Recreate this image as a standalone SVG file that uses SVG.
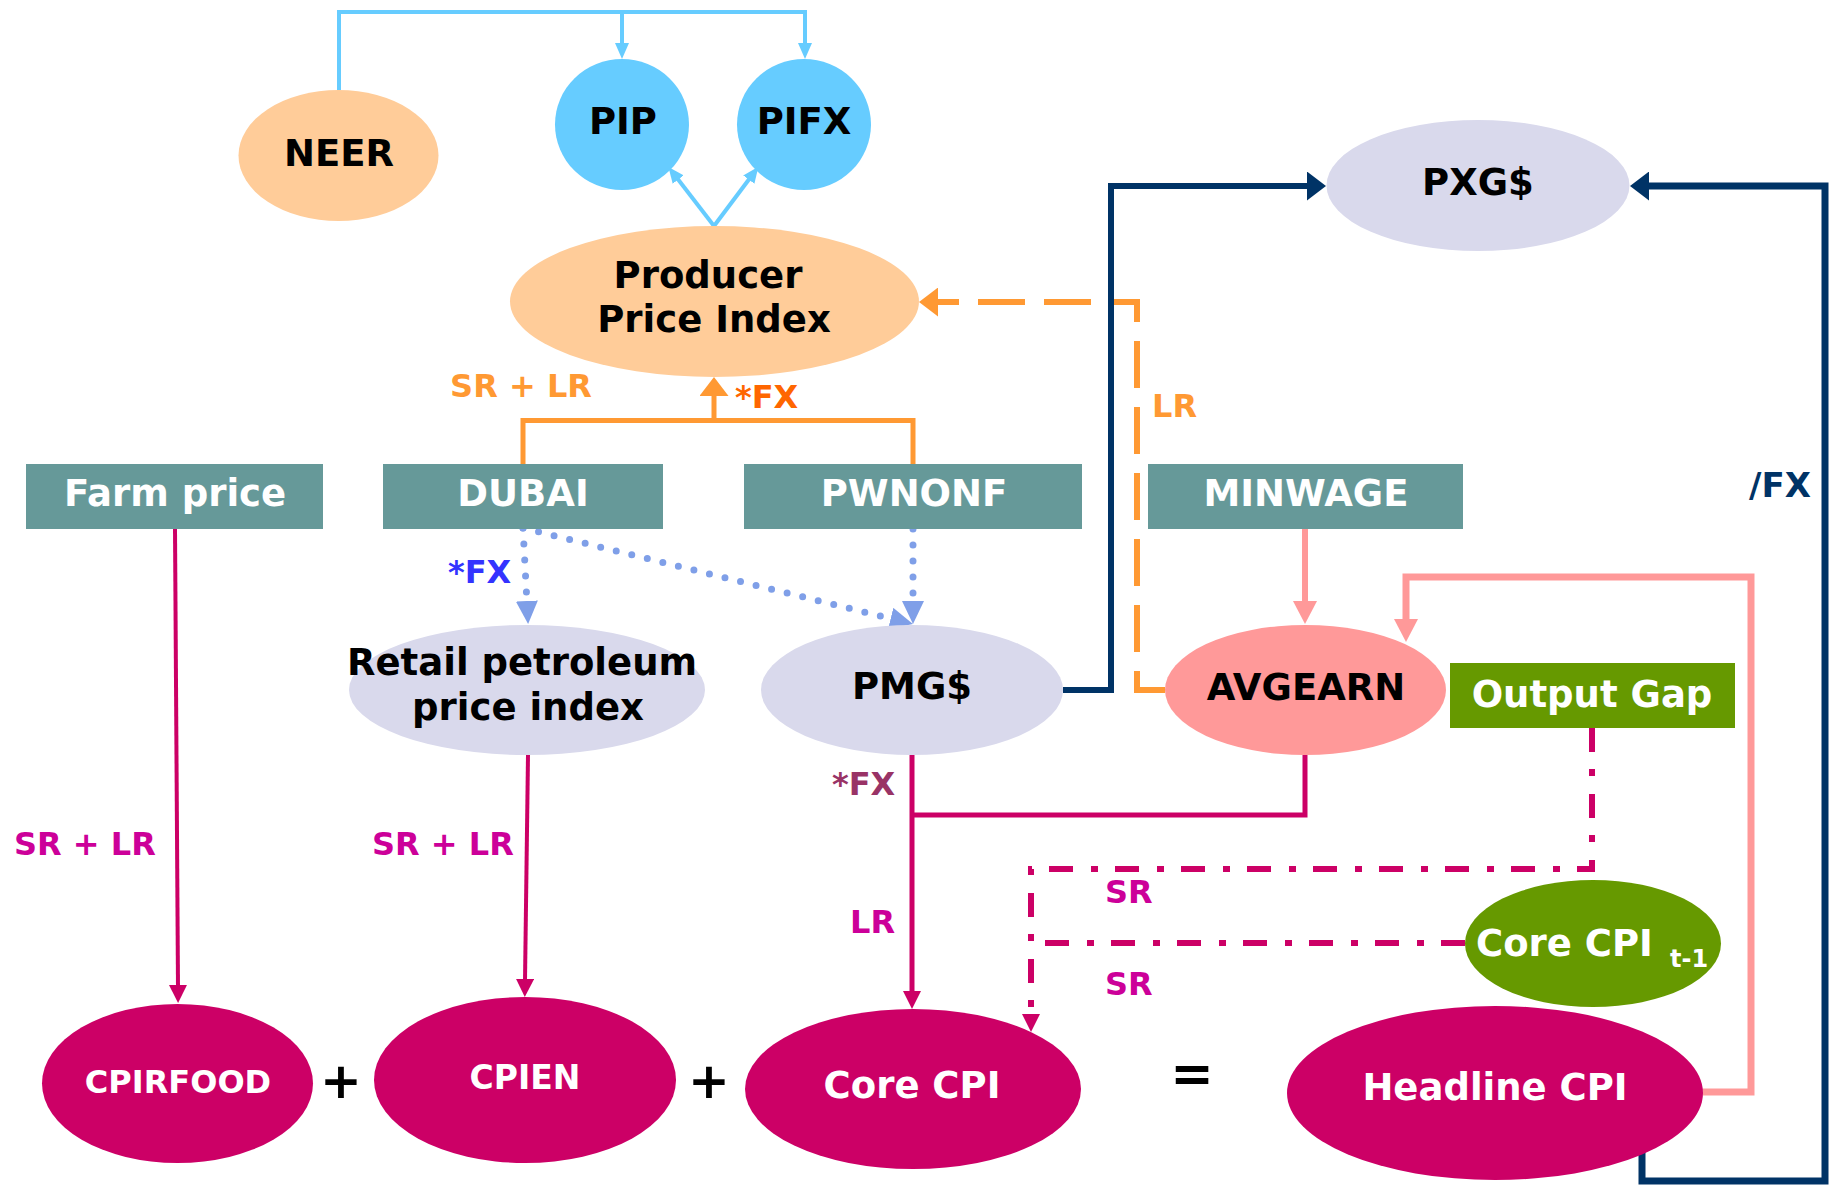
<svg xmlns="http://www.w3.org/2000/svg" width="1831" height="1185" viewBox="0 0 1831 1185">
<style>
text{font-family:"DejaVu Sans","Verdana","Liberation Sans",sans-serif;font-weight:bold}
.n{font-size:37px;text-anchor:middle}
.dk{fill:#000}
.wt{fill:#fff}
.lb{font-size:32px}
.peach{fill:#FFCC99}
.sky{fill:#66CCFF}
.lav{fill:#D9D9EC}
.teal{fill:#669999}
.pink{fill:#FF9999}
.green{fill:#669900}
.mag{fill:#CC0066}
.c{fill:none}
</style>
<defs>
<marker id="aSky" markerUnits="userSpaceOnUse" markerWidth="16" markerHeight="14" refX="2" refY="7" orient="auto"><path d="M0,0 L16,7 L0,14 z" fill="#66CCFF"/></marker>
<marker id="aOr" markerUnits="userSpaceOnUse" markerWidth="19" markerHeight="29" refX="2" refY="14.5" orient="auto"><path d="M0,0 L19,14.5 L0,29 z" fill="#FF9933"/></marker>
<marker id="aNavy" markerUnits="userSpaceOnUse" markerWidth="19" markerHeight="29" refX="2" refY="14.5" orient="auto"><path d="M0,0 L19,14.5 L0,29 z" fill="#003366"/></marker>
<marker id="aMag" markerUnits="userSpaceOnUse" markerWidth="18" markerHeight="18" refX="2" refY="9" orient="auto"><path d="M0,0 L18,9 L0,18 z" fill="#CC0066"/></marker>
<marker id="aPink" markerUnits="userSpaceOnUse" markerWidth="23" markerHeight="24" refX="2" refY="12" orient="auto"><path d="M0,0 L23,12 L0,24 z" fill="#FF9999"/></marker>
<marker id="aDot" markerUnits="userSpaceOnUse" markerWidth="23" markerHeight="22" refX="2" refY="11" orient="auto"><path d="M0,0 L23,11 L0,22 z" fill="#7F9FE8"/></marker>
</defs>
<rect width="1831" height="1185" fill="#fff"/>

<g id="connectors">
  <path class="c" d="M339,90 V12 H805 V45" stroke="#66CCFF" stroke-width="4" marker-end="url(#aSky)"/>
  <path class="c" d="M622,12 V45" stroke="#66CCFF" stroke-width="4" marker-end="url(#aSky)"/>
  <path class="c" d="M714,226 L677,178" stroke="#66CCFF" stroke-width="4" marker-end="url(#aSky)"/>
  <path class="c" d="M714,226 L750,178" stroke="#66CCFF" stroke-width="4" marker-end="url(#aSky)"/>
  <path class="c" d="M523,464 V420.5 H913 V464" stroke="#FF9933" stroke-width="5"/>
  <path class="c" d="M714,420.5 V394" stroke="#FF9933" stroke-width="5" marker-end="url(#aOr)"/>
  <path class="c" d="M1165,690 H1137 V302 H936" stroke="#FF9933" stroke-width="6" stroke-dasharray="47 19" marker-end="url(#aOr)"/>
  <path class="c" d="M1063,690 H1111 V186 H1309" stroke="#003366" stroke-width="6" marker-end="url(#aNavy)"/>
  <path class="c" d="M1642,1152 V1181 H1825 V186 H1647" stroke="#003366" stroke-width="7" marker-end="url(#aNavy)"/>
  <path class="c" d="M175,529 L178,987" stroke="#CC0066" stroke-width="4" marker-end="url(#aMag)"/>
  <path class="c" d="M528,755 L525,981" stroke="#CC0066" stroke-width="4" marker-end="url(#aMag)"/>
  <path class="c" d="M912,755 V993" stroke="#CC0066" stroke-width="5" marker-end="url(#aMag)"/>
  <path class="c" d="M1305,755 V815 H912" stroke="#CC0066" stroke-width="5"/>
  <path class="c" d="M1305,529 V603" stroke="#FF9999" stroke-width="6" marker-end="url(#aPink)"/>
  <path class="c" d="M1703,1092 H1751 V577 H1406 V621" stroke="#FF9999" stroke-width="7" marker-end="url(#aPink)"/>
  <path class="c" d="M523,528 L527,603" stroke="#7F9FE8" stroke-width="7" stroke-linecap="round" stroke-dasharray="0 16" marker-end="url(#aDot)"/>
  <path class="c" d="M523,528 L892.6,619" stroke="#7F9FE8" stroke-width="7" stroke-linecap="round" stroke-dasharray="0 16" marker-end="url(#aDot)"/>
  <path class="c" d="M913,529 V603" stroke="#7F9FE8" stroke-width="7" stroke-linecap="round" stroke-dasharray="0 16" marker-end="url(#aDot)"/>
  <path class="c" d="M1592,728 V869 H1031 V1016" stroke="#CC0066" stroke-width="6" stroke-dasharray="24 17 7 18" marker-end="url(#aMag)"/>
  <path class="c" d="M1465,943 H1031" stroke="#CC0066" stroke-width="6" stroke-dasharray="24 17 7 18"/>
</g>

<g id="labels">
  <text class="lb" x="521" y="397" text-anchor="middle" fill="#FF9933">SR + LR</text>
  <text class="lb" x="735" y="408" fill="#FF6600">*FX</text>
  <text class="lb" x="1152" y="417" fill="#FF9933">LR</text>
  <text x="1749" y="497" font-size="34" fill="#003366">/FX</text>
  <text class="lb" x="448" y="583" fill="#3333FF">*FX</text>
  <text class="lb" x="832" y="795" fill="#993366">*FX</text>
  <text class="lb" x="14" y="855" fill="#CC0099">SR + LR</text>
  <text class="lb" x="372" y="855" fill="#CC0099">SR + LR</text>
  <text class="lb" x="850" y="933" fill="#CC0099">LR</text>
  <text class="lb" x="1105" y="903" fill="#CC0099">SR</text>
  <text class="lb" x="1105" y="995" fill="#CC0099">SR</text>
  <text x="341" y="1098" font-size="50" text-anchor="middle" fill="#000">+</text>
  <text x="709" y="1098" font-size="50" text-anchor="middle" fill="#000">+</text>
  <text x="1192" y="1091" font-size="52" text-anchor="middle" fill="#000">=</text>
</g>

<g id="node-neer"><ellipse class="peach" cx="338.5" cy="155.5" rx="100" ry="65.5"/><text class="n dk" x="339" y="166">NEER</text></g>
<g id="node-pip"><ellipse class="sky" cx="622" cy="124.5" rx="67" ry="65.5"/><text class="n dk" x="623" y="134">PIP</text></g>
<g id="node-pifx"><ellipse class="sky" cx="804" cy="124.5" rx="67" ry="65.5"/><text class="n dk" x="804" y="134">PIFX</text></g>
<g id="node-ppi"><ellipse class="peach" cx="714.5" cy="301.5" rx="204.5" ry="75.5"/><text class="n dk" x="708" y="288">Producer</text><text class="n dk" x="714" y="332">Price Index</text></g>
<g id="node-pxg"><ellipse class="lav" cx="1478" cy="185.5" rx="151.5" ry="65.5"/><text class="n dk" x="1478" y="195">PXG$</text></g>

<g id="node-farm"><rect class="teal" x="26" y="464" width="297" height="65"/><text class="n wt" x="175" y="506">Farm price</text></g>
<g id="node-dubai"><rect class="teal" x="383" y="464" width="280" height="65"/><text class="n wt" x="523" y="506">DUBAI</text></g>
<g id="node-pwnonf"><rect class="teal" x="744" y="464" width="338" height="65"/><text class="n wt" x="914" y="506">PWNONF</text></g>
<g id="node-minwage"><rect class="teal" x="1148" y="464" width="315" height="65"/><text class="n wt" x="1306" y="506">MINWAGE</text></g>

<g id="node-retail"><ellipse class="lav" cx="527" cy="690" rx="178" ry="65"/><text class="n dk" x="522" y="675">Retail petroleum</text><text class="n dk" x="528" y="720">price index</text></g>
<g id="node-pmg"><ellipse class="lav" cx="912" cy="690" rx="151" ry="65"/><text class="n dk" x="912" y="699">PMG$</text></g>
<g id="node-avgearn"><ellipse class="pink" cx="1305.5" cy="690" rx="140.5" ry="65"/><text class="n dk" x="1306" y="700">AVGEARN</text></g>
<g id="node-outputgap"><rect class="green" x="1450" y="663" width="285" height="65"/><text class="n wt" x="1592" y="707">Output Gap</text></g>
<g id="node-corecpi-t1"><ellipse class="green" cx="1593" cy="943.5" rx="128" ry="63.5"/><text class="wt" x="1476" y="956" font-size="37">Core CPI</text><text class="wt" x="1670" y="967" font-size="24">t-1</text></g>

<g id="node-cpirfood"><ellipse class="mag" cx="177.5" cy="1083.5" rx="135.5" ry="79.5"/><text class="wt" x="178" y="1093" font-size="32" text-anchor="middle">CPIRFOOD</text></g>
<g id="node-cpien"><ellipse class="mag" cx="525" cy="1080" rx="151" ry="83"/><text class="wt" x="525" y="1089" font-size="33" text-anchor="middle">CPIEN</text></g>
<g id="node-corecpi"><ellipse class="mag" cx="913" cy="1089" rx="168" ry="80"/><text class="n wt" x="912" y="1098">Core CPI</text></g>
<g id="node-headline"><ellipse class="mag" cx="1495" cy="1093" rx="208" ry="87"/><text class="n wt" x="1495" y="1100">Headline CPI</text></g>
</svg>
